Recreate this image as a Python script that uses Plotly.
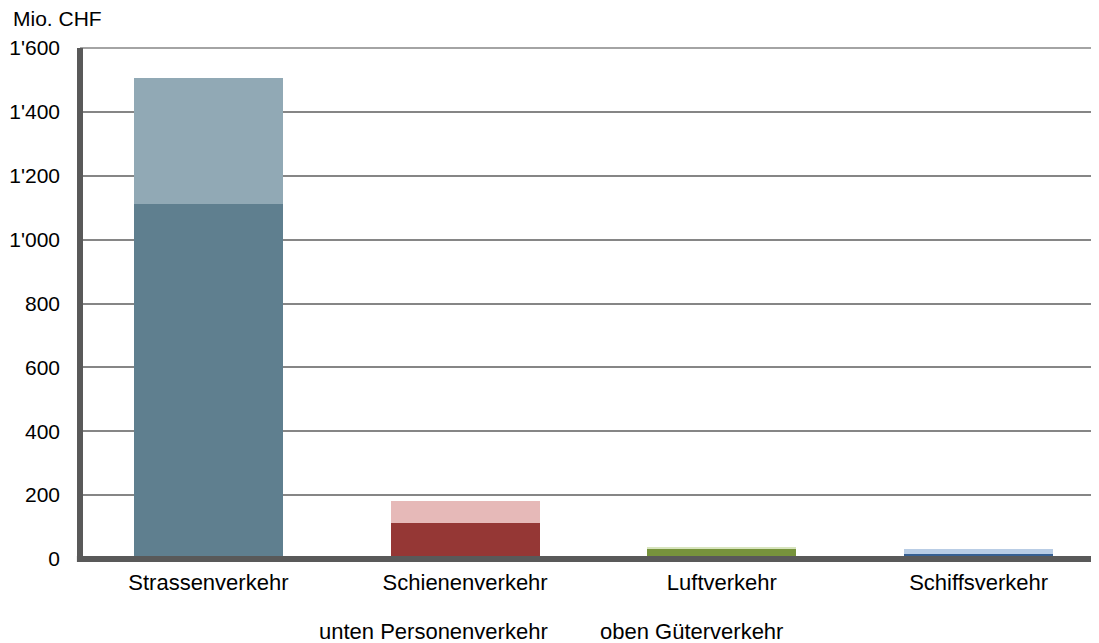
import plotly.graph_objects as go

categories = ['Strassenverkehr', 'Schienenverkehr', 'Luftverkehr', 'Schiffsverkehr']
personen = [1110, 113, 34, 15]
gueter = [395, 70, 2, 15]
colors_personen = ['#5F7F8F', '#953735', '#77933C', '#376092']
colors_gueter = ['#91A9B5', '#E6B9B8', '#D7E4BD', '#B9CDE5']
tick_vals = [0, 200, 400, 600, 800, 1000, 1200, 1400, 1600]
tick_text = ['0', '200', '400', '600', '800', "1'000", "1'200", "1'400", "1'600"]

font = dict(family='Liberation Sans, Arial', size=21, color='#000000')
font_cat = dict(family='Liberation Sans, Arial', size=22, color='#000000')

fig = go.Figure()
fig.add_trace(go.Bar(x=categories, y=personen, name='Personenverkehr',
                     marker_color=colors_personen, marker_line_width=0))
fig.add_trace(go.Bar(x=categories, y=gueter, name='Güterverkehr',
                     marker_color=colors_gueter, marker_line_width=0))

# page body has an 8px margin, so the figure is sized to fill the rest
fig.update_layout(
    barmode='stack',
    bargap=0.42,
    width=1099, height=635,
    margin=dict(l=72, r=0, t=40, b=84),
    plot_bgcolor='white',
    paper_bgcolor='white',
    showlegend=False,
    font=font,
)
fig.update_yaxes(range=[0, 1600], tickvals=tick_vals, ticktext=tick_text,
                 showgrid=True, gridcolor='#868686', gridwidth=1.5,
                 zeroline=False, showline=False, ticklabelstandoff=19,
                 tickfont=font)
fig.update_xaxes(showline=False, showgrid=False, ticklabelstandoff=8,
                 tickfont=font_cat)

# top gridline (plotly skips the one on the edge)
fig.add_shape(type='line', xref='paper', yref='paper', x0=0, x1=1, y0=1, y1=1,
              line=dict(color='#868686', width=1.5), layer='below')
# axis lines
fig.add_shape(type='line', xref='paper', yref='paper', x0=-0.003, x1=1, y0=0, y1=0,
              line=dict(color='#595959', width=6), layer='above')
fig.add_shape(type='line', xref='paper', yref='paper', x0=0, x1=0, y0=-0.006, y1=1,
              line=dict(color='#595959', width=6), layer='above')

fig.add_annotation(text='Mio. CHF', xref='paper', yref='paper', x=-0.0672, y=1.0587,
                   xanchor='left', yanchor='middle', showarrow=False, font=font)
fig.add_annotation(text='unten Personenverkehr', xref='paper', yref='paper',
                   x=0.2309, y=-0.141, xanchor='left', yanchor='middle',
                   showarrow=False, font=font_cat)
fig.add_annotation(text='oben Güterverkehr', xref='paper', yref='paper',
                   x=0.5045, y=-0.141, xanchor='left', yanchor='middle',
                   showarrow=False, font=font_cat)

fig.write_html("out.html")
